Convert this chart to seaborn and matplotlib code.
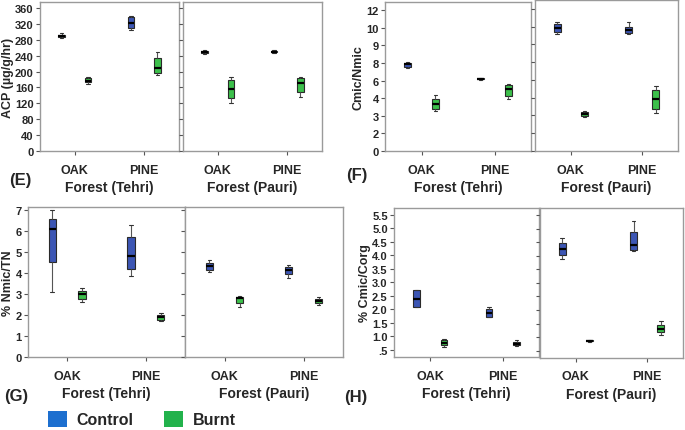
import pandas as pd
import numpy as np
import matplotlib
matplotlib.use("Agg")
import matplotlib.pyplot as plt
import seaborn as sns
from matplotlib.patches import Patch

forests = ["OAK", "PINE"]
treatments = ["Control", "Burnt"]

# five values per box (min, q1, median, q3, max); order: OAK, PINE
acp_tehri_control = [[285, 287, 290, 293, 297], [304, 309, 321, 336, 341]]
acp_tehri_burnt = [[168, 173, 177, 183, 185], [191, 196, 208, 233, 250]]
acp_pauri_control = [[245, 246, 248, 252, 254], [246, 248, 250, 251, 253]]
acp_pauri_burnt = [[122, 133, 155, 179, 186], [137, 149, 172, 184, 186]]

cn_tehri_control = [[7.1, 7.2, 7.4, 7.5, 7.6], [6.05, 6.1, 6.14, 6.18, 6.2]]
cn_tehri_burnt = [[3.4, 3.6, 4.0, 4.45, 4.75], [4.45, 4.67, 5.3, 5.66, 5.75]]
cn_pauri_control = [[9.85, 10.05, 10.4, 10.75, 10.9], [9.85, 10.0, 10.2, 10.47, 10.9]]
cn_pauri_burnt = [[2.9, 2.95, 3.1, 3.3, 3.35], [3.17, 3.54, 4.4, 5.18, 5.46]]

ntn_tehri_control = [[3.1, 4.53, 6.1, 6.57, 7.0], [3.87, 4.18, 4.8, 5.7, 6.27]]
ntn_tehri_burnt = [[2.6, 2.78, 2.98, 3.12, 3.28], [1.72, 1.78, 1.9, 2.02, 2.08]]
ntn_pauri_control = [[4.02, 4.14, 4.31, 4.47, 4.63], [3.74, 3.95, 4.13, 4.26, 4.37]]
ntn_pauri_burnt = [[2.39, 2.56, 2.8, 2.86, 2.88], [2.47, 2.59, 2.67, 2.78, 2.86]]

cc_tehri_control = [[2.1, 2.1, 2.4, 2.7, 2.7], [1.71, 1.71, 1.88, 2.02, 2.1]]
cc_tehri_burnt = [[0.6, 0.66, 0.76, 0.85, 0.91], [0.63, 0.66, 0.73, 0.8, 0.85]]
cc_pauri_control = [[3.87, 4.02, 4.24, 4.46, 4.67], [4.17, 4.2, 4.39, 4.88, 5.29]]
cc_pauri_burnt = [[0.82, 0.84, 0.86, 0.88, 0.9], [1.09, 1.18, 1.31, 1.46, 1.59]]

acp_ticks = [0, 40, 80, 120, 160, 200, 240, 280, 320, 360]
acp_labels = ["0", "40", "80", "120", "160", "200", "240", "280", "320", "360"]
cn_ticks = [0, 1.5, 3, 4.5, 6, 7.5, 9, 10.5, 12]
cn_labels = ["0", "2", "3", "4", "6", "8", "9", "10", "12"]
ntn_ticks = [0, 1, 2, 3, 4, 5, 6, 7]
ntn_labels = ["0", "1", "2", "3", "4", "5", "6", "7"]
cc_ticks = [0.5, 1.0, 1.5, 2.0, 2.5, 3.0, 3.5, 4.0, 4.5, 5.0, 5.5]
cc_labels = [".5", "1.0", "1.5", "2.0", "2.5", "3.0", "3.5", "4.0", "4.5", "5.0", "5.5"]

box_colors = {"Control": "#3c56b4", "Burnt": "#3cc04b"}
legend_colors = ["#1d6fcf", "#22b24c"]

sns.set_style("white")
plt.rcParams["font.family"] = ["Liberation Sans", "DejaVu Sans"]
plt.rcParams["font.weight"] = "bold"


def long_df(control, burnt):
    rows = []
    for treat, boxes in (("Control", control), ("Burnt", burnt)):
        for forest, vals in zip(forests, boxes):
            for v in vals:
                rows.append((forest, treat, v))
    return pd.DataFrame(rows, columns=["Forest", "Treatment", "value"])


fig = plt.figure(figsize=(6.85, 4.31), dpi=100)


def add_ax(x0, y0, x1, y1):
    return fig.add_axes([x0 / 685, 1 - y1 / 431, (x1 - x0) / 685, (y1 - y0) / 431])


def draw(ax, control, burnt, ylim, ticks, labels, xlabel, ylabel=None):
    df = long_df(control, burnt)
    sns.boxplot(data=df, x="Forest", y="value", hue="Treatment", order=forests,
                hue_order=treatments, palette=box_colors, width=0.76, gap=0.75,
                saturation=1, linewidth=0.8, linecolor="#2a2a2a", showfliers=False,
                medianprops=dict(color="black", linewidth=1.6),
                whiskerprops=dict(color="#555555", linewidth=0.8),
                capprops=dict(color="#333333", linewidth=0.8),
                legend=False, ax=ax)
    ax.set_xlim(-0.5, 1.5)
    ax.set_ylim(*ylim)
    ax.set_yticks(ticks)
    if ylabel is not None:
        ax.set_yticklabels(labels, fontsize=8, fontweight="bold")
        ax.set_ylabel(ylabel, fontsize=9, fontweight="bold", labelpad=1)
    else:
        ax.set_yticklabels([])
        ax.set_ylabel("")
    ax.set_xticks([0, 1])
    ax.set_xticklabels(forests, fontsize=9, fontweight="bold")
    ax.set_xlabel(xlabel, fontsize=10, fontweight="bold", labelpad=3)
    ax.tick_params(axis="both", direction="out", length=3, width=0.8,
                   color="#555555", pad=1.5, left=True, bottom=True)
    ax.tick_params(axis="x", pad=6)
    for s in ax.spines.values():
        s.set_visible(True)
        s.set_color("#9a9a9a")
        s.set_linewidth(1.0)


# (E) ACP
ax = add_ax(40, 3, 179, 152)
draw(ax, acp_tehri_control, acp_tehri_burnt, (0, 375), acp_ticks, acp_labels,
     "Forest (Tehri)", "ACP (µg/g/hr)")
ax = add_ax(183, 3, 322, 152)
draw(ax, acp_pauri_control, acp_pauri_burnt, (0, 375), acp_ticks, acp_labels,
     "Forest (Pauri)")

# (F) Cmic/Nmic
ax = add_ax(385, 3, 531, 152)
draw(ax, cn_tehri_control, cn_tehri_burnt, (0, 12.7), cn_ticks, cn_labels,
     "Forest (Tehri)", "Cmic/Nmic")
ax = add_ax(535, 1, 678, 152)
draw(ax, cn_pauri_control, cn_pauri_burnt, (0, 12.75), cn_ticks, cn_labels,
     "Forest (Pauri)")

# (G) % Nmic/TN
ax = add_ax(28, 208, 185, 358)
draw(ax, ntn_tehri_control, ntn_tehri_burnt, (0, 7.13), ntn_ticks, ntn_labels,
     "Forest (Tehri)", "% Nmic/TN")
ax = add_ax(185, 208, 343, 358)
draw(ax, ntn_pauri_control, ntn_pauri_burnt, (0, 7.13), ntn_ticks, ntn_labels,
     "Forest (Pauri)")

# (H) % Cmic/Corg
ax = add_ax(394, 209, 539, 358)
draw(ax, cc_tehri_control, cc_tehri_burnt, (0.23, 5.76), cc_ticks, cc_labels,
     "Forest (Tehri)", "% Cmic/Corg")
ax = add_ax(540, 209, 683, 359)
draw(ax, cc_pauri_control, cc_pauri_burnt, (0.23, 5.76), cc_ticks, cc_labels,
     "Forest (Pauri)")

for lab, x, y in (("(E)", 9, 181), ("(F)", 346, 176), ("(G)", 4, 397), ("(H)", 344, 398)):
    fig.text(x / 685, 1 - y / 431, lab, fontsize=12, fontweight="bold", va="center")

handles = [Patch(facecolor=c, edgecolor="none") for c in legend_colors]
fig.legend(handles, treatments, loc="center left", bbox_to_anchor=(48 / 685, 1 - 420 / 431),
           ncol=2, frameon=False, handlelength=1.2, handleheight=1.2,
           borderpad=0, borderaxespad=0, columnspacing=1.9, handletextpad=0.6,
           prop=dict(size=11.5, weight="bold"))

fig.savefig("out.png", dpi=100)
